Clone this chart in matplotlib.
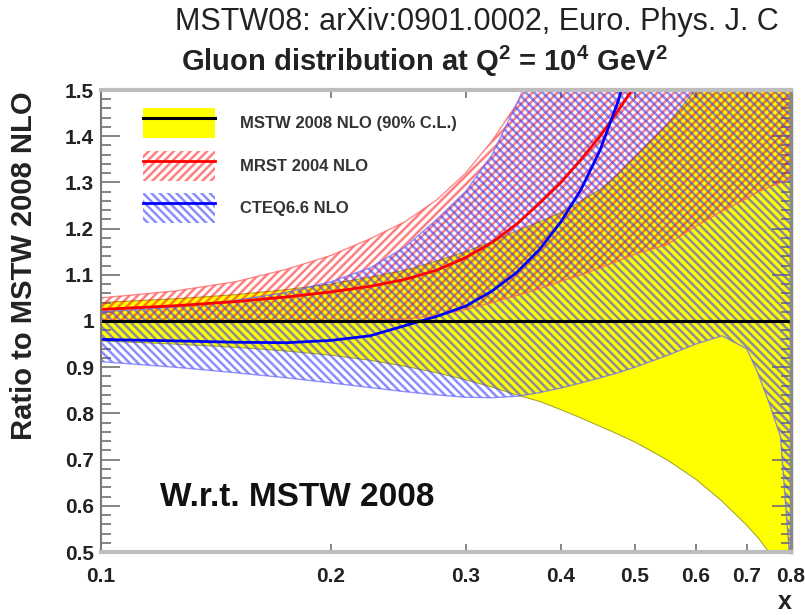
import matplotlib
matplotlib.use("Agg")
import matplotlib.pyplot as plt
from matplotlib.patches import Patch
from matplotlib.lines import Line2D
from matplotlib.legend_handler import HandlerTuple
from matplotlib.ticker import FixedLocator, MultipleLocator, NullFormatter

plt.rcParams['font.family'] = ['Liberation Sans', 'DejaVu Sans']
plt.rcParams['hatch.linewidth'] = 1.8

# x grid shared by all curves
x = [0.1, 0.125, 0.15, 0.175, 0.2, 0.225, 0.25, 0.275, 0.3, 0.325, 0.35,
     0.375, 0.4, 0.425, 0.45, 0.475, 0.5, 0.55, 0.6, 0.65, 0.7, 0.725, 0.75, 0.775, 0.8]

# MSTW 2008 NLO, 90% C.L. band (ratio to its own central value)
mstw_hi = [1.040, 1.048, 1.057, 1.068, 1.080, 1.095, 1.110, 1.130, 1.150, 1.172, 1.195,
           1.215, 1.235, 1.260, 1.285, 1.318, 1.355, 1.425, 1.500, 1.580, 1.660, 1.700,
           1.750, 1.800, 1.850]
mstw_lo = [0.957, 0.950, 0.943, 0.935, 0.926, 0.915, 0.902, 0.888, 0.873, 0.857, 0.840,
           0.826, 0.808, 0.790, 0.772, 0.755, 0.738, 0.700, 0.658, 0.610, 0.558, 0.530,
           0.498, 0.450, 0.400]
mstw_c = [1.0] * len(x)

# MRST 2004 NLO
mrst_c = [1.025, 1.033, 1.042, 1.052, 1.063, 1.075, 1.090, 1.110, 1.137, 1.170, 1.210,
          1.255, 1.300, 1.350, 1.400, 1.455, 1.510, 1.620, 1.750, 1.850, 1.950, 2.000,
          2.050, 2.100, 2.150]
mrst_hi = [1.050, 1.065, 1.085, 1.112, 1.142, 1.178, 1.215, 1.262, 1.320, 1.390, 1.470,
           1.550, 1.630, 1.710, 1.800, 1.900, 2.000, 2.200, 2.400, 2.600, 2.800, 2.900,
           3.000, 3.100, 3.200]
mrst_lo = [1.002, 1.000, 0.999, 0.998, 0.998, 1.000, 1.004, 1.012, 1.025, 1.040, 1.055,
           1.070, 1.086, 1.100, 1.115, 1.130, 1.145, 1.165, 1.205, 1.238, 1.265, 1.280,
           1.290, 1.300, 1.310]

# CTEQ6.6 NLO
cteq_c = [0.960, 0.957, 0.954, 0.953, 0.958, 0.968, 0.990, 1.010, 1.032, 1.065, 1.105,
          1.155, 1.215, 1.285, 1.370, 1.475, 1.600, 1.900, 2.200, 2.500, 2.800, 2.950,
          3.100, 3.250, 3.400]
cteq_hi = [1.020, 1.030, 1.045, 1.062, 1.085, 1.115, 1.160, 1.220, 1.280, 1.360, 1.470,
           1.580, 1.700, 1.850, 2.000, 2.150, 2.300, 2.600, 2.900, 3.200, 3.500, 3.650,
           3.800, 3.950, 4.100]
cteq_lo = [0.912, 0.900, 0.888, 0.877, 0.866, 0.856, 0.847, 0.840, 0.835, 0.834, 0.837,
           0.845, 0.855, 0.866, 0.877, 0.888, 0.900, 0.925, 0.950, 0.968, 0.940, 0.885,
           0.820, 0.750, 0.450]

x_ticks = [0.1, 0.2, 0.3, 0.4, 0.5, 0.6, 0.7, 0.8]
x_ticklabels = ['0.1', '0.2', '0.3', '0.4', '0.5', '0.6', '0.7', '0.8']
y_ticks = [0.5, 0.6, 0.7, 0.8, 0.9, 1.0, 1.1, 1.2, 1.3, 1.4, 1.5]
y_ticklabels = ['0.5', '0.6', '0.7', '0.8', '0.9', '1', '1.1', '1.2', '1.3', '1.4', '1.5']

yellow = '#ffff00'
red_h = (1.0, 0.0, 0.0, 0.5)
blue_h = (0.25, 0.25, 1.0, 0.6)
red_hatch = '////'
blue_hatch = '\\\\\\\\'

fig = plt.figure(figsize=(8.05, 6.15), dpi=100)
ax = fig.add_axes([101 / 805, 1 - 552 / 615, 690 / 805, 462 / 615])
ax.set_xscale('log')
ax.set_xlim(0.1, 0.8)
ax.set_ylim(0.5, 1.5)

# bands
ax.fill_between(x, mstw_lo, mstw_hi, facecolor=yellow, edgecolor='#a8a830', linewidth=0.8, zorder=1)
ax.fill_between(x, mrst_lo, mrst_hi, facecolor='none', edgecolor=red_h, hatch=red_hatch,
                linewidth=0, zorder=2)
ax.fill_between(x, cteq_lo, cteq_hi, facecolor='none', edgecolor=blue_h, hatch=blue_hatch,
                linewidth=0, zorder=3)
for y_edge in (mrst_lo, mrst_hi):
    ax.plot(x, y_edge, color=(1.0, 0.35, 0.35, 0.7), lw=1.0, zorder=3)
for y_edge in (cteq_lo, cteq_hi):
    ax.plot(x, y_edge, color=(0.4, 0.4, 1.0, 0.7), lw=1.0, zorder=3)

# central values
ax.plot(x, mrst_c, color='#ff0000', lw=2.0, zorder=5)
ax.plot(x, cteq_c, color='#0000ff', lw=2.0, zorder=5)
ax.plot(x, mstw_c, color='black', lw=2.2, zorder=6)

# axes styling
ax.set_xticks(x_ticks)
ax.set_xticklabels(x_ticklabels)
ax.xaxis.set_minor_locator(FixedLocator([]))
ax.xaxis.set_minor_formatter(NullFormatter())
ax.set_yticks(y_ticks)
ax.set_yticklabels(y_ticklabels)
ax.yaxis.set_minor_locator(MultipleLocator(0.02))

ax.tick_params(axis='both', which='both', direction='in', top=True, right=True,
               colors='#707070', labelcolor='#222222')
ax.tick_params(axis='y', which='major', length=14, width=1.2, labelsize=15, pad=5)
ax.tick_params(axis='y', which='minor', length=7, width=1.2)
ax.tick_params(axis='x', which='major', length=6, width=1.2, labelsize=15, pad=11)
for lab in ax.get_xticklabels() + ax.get_yticklabels():
    lab.set_fontweight('bold')

for side, c, w in (('top', '#bdbdbd', 3.0), ('bottom', '#bdbdbd', 3.0),
                   ('left', '#7a7a7a', 1.5), ('right', '#8a8a8a', 2.5)):
    ax.spines[side].set_color(c)
    ax.spines[side].set_linewidth(w)
    ax.spines[side].set_zorder(10)

ax.set_ylabel('Ratio to MSTW 2008 NLO', fontsize=21, fontweight='bold', color='#222222')
ax.yaxis.set_label_coords(-0.091, 0.619)
fig.text(785 / 805, 1 - 602 / 615, 'x', fontsize=18, fontweight='bold', ha='center', va='center',
         color='#222222')

fig.text(477 / 805, 1 - 22 / 615, 'MSTW08: arXiv:0901.0002, Euro. Phys. J. C', fontsize=22,
         ha='center', va='center', color='#222222')
fig.text(424 / 805, 1 - 61 / 615,
         r'Gluon distribution at Q$^\mathregular{2}$ = 10$^\mathregular{4}$ GeV$^\mathregular{2}$',
         fontsize=21, fontweight='bold', ha='center', va='center', color='#222222')

ax.text((160 - 101) / 690, (552 - 497) / 462, 'W.r.t. MSTW 2008', transform=ax.transAxes,
        fontsize=24, fontweight='bold', ha='left', va='center', color='#111111', zorder=8)

# legend
h_mstw = (Patch(facecolor=yellow, edgecolor='none'), Line2D([], [], color='black', lw=2.2))
h_mrst = (Patch(facecolor='none', edgecolor=red_h, hatch=red_hatch, linewidth=0),
          Line2D([], [], color='#ff0000', lw=2.0))
h_cteq = (Patch(facecolor='none', edgecolor=blue_h, hatch=blue_hatch, linewidth=0),
          Line2D([], [], color='#0000ff', lw=2.0))
leg = ax.legend([h_mstw, h_mrst, h_cteq],
                ['MSTW 2008 NLO (90% C.L.)', 'MRST 2004 NLO', 'CTEQ6.6 NLO'],
                handler_map={tuple: HandlerTuple(ndivide=1, pad=0)},
                loc='upper left', bbox_to_anchor=(42 / 690, (552 - 108) / 462),
                frameon=False, borderpad=0, borderaxespad=0,
                prop={'size': 12, 'weight': 'bold'},
                handlelength=4.3, handleheight=2.4, handletextpad=1.5, labelspacing=0.75)
for t in leg.get_texts():
    t.set_color('#333333')
leg.set_zorder(9)

fig.savefig('out.png', dpi=100)
